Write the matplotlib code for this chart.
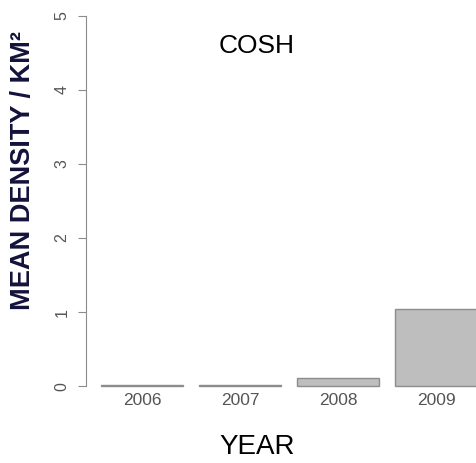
import matplotlib
matplotlib.use("Agg")
import matplotlib.pyplot as plt
import numpy as np

# data
years = ["2006", "2007", "2008", "2009"]
density = [0.01, 0.01, 0.11, 1.04]

W, H = 477, 463
fig = plt.figure(figsize=(W / 100, H / 100), dpi=100)
plt.rcParams["font.family"] = ["Liberation Sans", "DejaVu Sans"]

# axes box in pixels: left=86, right=477, top=1, bottom=401
ax = fig.add_axes([86 / W, (H - 401) / H, (477 - 86) / W, 400 / H])

# R-style barplot: width 1, space 0.2
lefts = 0.2 + 1.2 * np.arange(len(years))
centers = lefts + 0.5
ax.bar(centers, density, width=1.0, color="#bebebe", edgecolor="#8c8c8c", linewidth=1.0)

ax.set_xlim(0.016, 4.8)
ax.set_ylim(-0.2, 5.2)

for s in ["top", "right", "bottom"]:
    ax.spines[s].set_visible(False)
ax.spines["left"].set_bounds(0, 5)
ax.spines["left"].set_color("#8c8c8c")

ax.set_yticks(range(6))
ax.set_yticklabels([str(i) for i in range(6)], rotation=90, va="center",
                   fontsize=11.5, color="#555555")
ax.tick_params(axis="y", length=6, color="#8c8c8c", pad=6)
ax.set_xticks(centers)
ax.set_xticklabels(years, fontsize=12.5, color="#555555")
ax.tick_params(axis="x", length=0, pad=-6)

fig.text(257 / W, 1 - 46 / H, "COSH", ha="center", va="center", fontsize=19)
fig.text(257 / W, 1 - 447 / H, "YEAR", ha="center", va="center", fontsize=20)
fig.text(23 / W, 1 - 170 / H, "MEAN DENSITY / KM²", rotation=90, ha="center",
         va="center", fontsize=19.5, fontweight="bold", color="#12123a")

fig.savefig("out.png", dpi=100)
